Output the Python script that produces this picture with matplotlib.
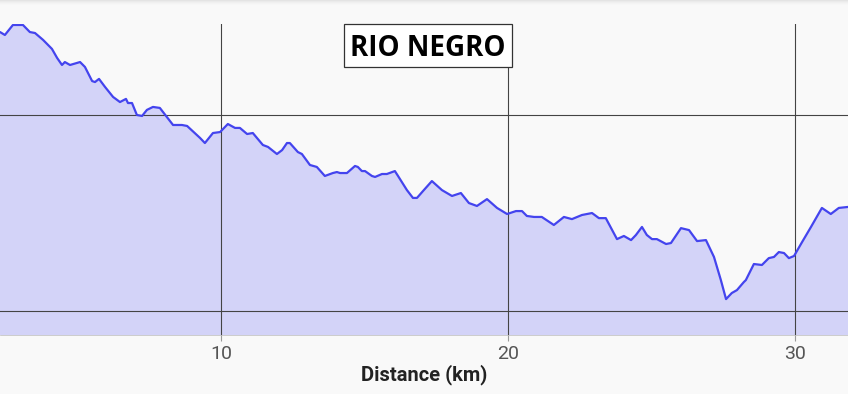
import numpy as np
import matplotlib.pyplot as plt
from matplotlib.patches import Rectangle

# profile: distance (km) / elevation (m)
dist = [2.30, 2.47, 2.75, 3.10, 3.34, 3.52, 3.80, 4.11, 4.29, 4.46, 4.56, 4.74, 5.09, 5.26,
        5.51, 5.61, 5.75, 5.96, 6.24, 6.48, 6.69, 6.76, 6.90, 7.07, 7.25, 7.42, 7.63, 7.87,
        8.33, 8.64, 8.82, 9.27, 9.44, 9.72, 9.97, 10.24, 10.49, 10.66, 10.91, 11.11, 11.46,
        11.64, 11.95, 12.13, 12.30, 12.40, 12.68, 12.82, 13.10, 13.34, 13.62, 13.90, 14.04,
        14.15, 14.39, 14.67, 14.77, 14.91, 15.02, 15.26, 15.37, 15.61, 15.78, 16.06, 16.17,
        16.48, 16.69, 16.83, 17.07, 17.35, 17.70, 18.05, 18.36, 18.64, 18.92, 19.27, 19.62,
        19.97, 20.28, 20.49, 20.66, 20.91, 21.18, 21.60, 21.95, 22.23, 22.58, 22.93, 23.17,
        23.41, 23.80, 24.04, 24.29, 24.46, 24.67, 24.84, 25.02, 25.19, 25.51, 25.68, 26.03,
        26.31, 26.59, 26.90, 27.18, 27.42, 27.60, 27.80, 27.98, 28.22, 28.29, 28.57, 28.85,
        29.09, 29.27, 29.44, 29.62, 29.79, 29.97, 30.25, 30.56, 30.94, 31.25, 31.53, 31.85]
elev = [242.3, 240.8, 245.9, 245.9, 242.3, 241.8, 238.3, 233.7, 229.1, 225.5, 227.0, 225.5,
        227.0, 224.5, 217.3, 216.8, 218.4, 214.3, 209.2, 206.6, 208.2, 206.1, 206.1, 200.0,
        199.5, 202.6, 204.1, 203.6, 194.9, 194.9, 194.4, 188.3, 185.7, 190.8, 191.3, 195.4,
        193.4, 193.4, 190.3, 190.8, 184.7, 183.7, 180.1, 182.1, 185.7, 185.7, 181.1, 180.1,
        174.5, 173.5, 168.9, 170.4, 170.9, 170.4, 170.4, 174.0, 173.5, 171.4, 171.4, 168.9,
        168.4, 169.9, 169.9, 171.4, 168.9, 161.7, 157.7, 157.7, 161.7, 166.3, 161.7, 158.7,
        160.2, 155.1, 153.6, 157.1, 152.6, 149.5, 151.0, 151.0, 148.5, 148.0, 148.0, 143.9,
        148.0, 146.9, 149.0, 150.0, 147.4, 147.4, 136.7, 138.3, 136.2, 138.8, 142.9, 138.8,
        136.7, 136.7, 134.2, 134.7, 142.3, 141.3, 135.7, 136.2, 127.6, 115.8, 106.1, 109.2,
        110.7, 114.8, 115.8, 124.0, 123.5, 127.0, 127.6, 130.1, 129.6, 127.0, 128.1, 135.2,
        142.9, 152.6, 149.5, 152.6, 153.1]
xticks = [10, 20, 30]
yticks = [100, 200]
title = 'RIO NEGRO'

W, H = 848, 394
bg = '#f9f9f9'
fig = plt.figure(figsize=(W / 100, H / 100), dpi=100, facecolor=bg)
ax = fig.add_axes([0, 59 / H, 1, 311 / H])
ax.set_facecolor(bg)

ymin = 87.8
ax.fill_between(dist, elev, ymin, color='#d3d3f8', lw=0, zorder=1)
ax.plot(dist, elev, color='#4444ee', lw=1.6, zorder=3,
        solid_joinstyle='round', solid_capstyle='round')

ax.set_xlim(2.30, 31.85)
ax.set_ylim(ymin, 246.4)
ax.set_xticks(xticks)
ax.set_yticks(yticks)
ax.set_yticklabels([])
ax.tick_params(axis='y', length=0)
ax.tick_params(axis='x', length=4.5, width=0.8, color='#999999', pad=3,
               labelsize=14, labelcolor='#555555')
for lab in ax.get_xticklabels():
    lab.set_family('Roboto')
ax.grid(True, color='#444444', lw=0.8, zorder=2)
ax.set_axisbelow(False)
for s in ['top', 'left', 'right']:
    ax.spines[s].set_visible(False)
ax.spines['bottom'].set_color('#bbbbbb')
ax.spines['bottom'].set_linewidth(0.5)

ax.set_xlabel('Distance (km)', family='Roboto', fontweight='bold', fontsize=14.5,
              color='#222222', labelpad=1)

# title box
fig.patches.append(Rectangle((344 / W, 1 - 67 / H), 168 / W, 43 / H,
                             transform=fig.transFigure, fc='white', ec='#333333',
                             lw=0.9, zorder=5))
fig.text(428 / W, 1 - 55.5 / H, title, ha='center', va='baseline',
         family='Open Sans', fontweight='bold', fontsize=20, color='black', zorder=6)

# shadow strip at the very top
for i, c in enumerate(['#e4e4e4', '#ebebeb', '#f0f0f0', '#f4f4f4', '#f7f7f7']):
    fig.patches.append(Rectangle((0, 1 - (i + 1) / H), 1, 1 / H,
                                 transform=fig.transFigure, color=c, lw=0))

fig.savefig('out.png', dpi=100, facecolor=bg)
